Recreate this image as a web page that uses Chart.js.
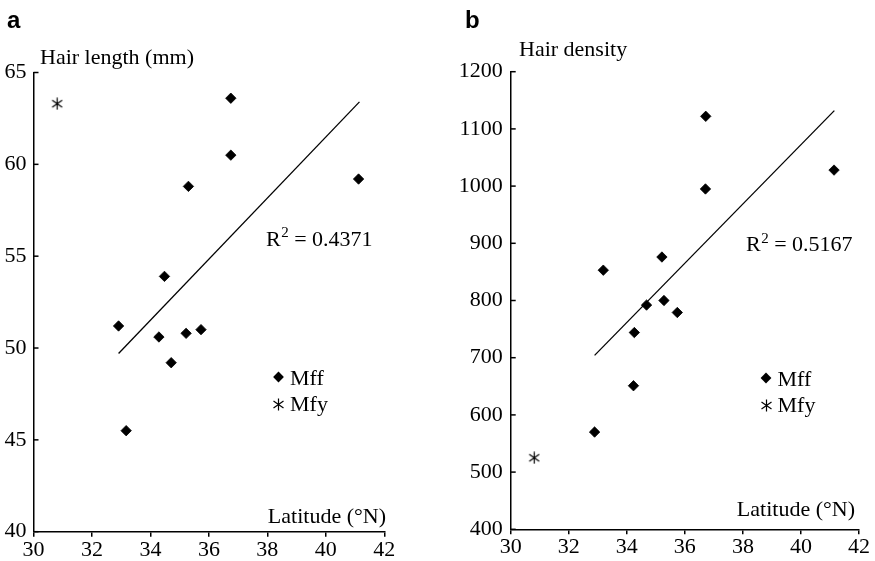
<!DOCTYPE html>
<html><head><meta charset="utf-8">
<script src="https://cdn.jsdelivr.net/npm/chart.js@4.4.1/dist/chart.umd.min.js"></script>
<style>
html,body{margin:0;padding:0;background:#fff;width:875px;height:561px;overflow:hidden;}
canvas{position:absolute;top:0;}
</style></head><body>
<canvas id="ca" width="440" height="561" style="left:0px"></canvas>
<canvas id="cb" width="435" height="561" style="left:440px"></canvas>
<script>
// ---------- data ----------
const latTicks = [30, 32, 34, 36, 38, 40, 42];
const lengthTicks = [40, 45, 50, 55, 60, 65];
const densityTicks = [400, 500, 600, 700, 800, 900, 1000, 1100, 1200];

// Panel a: hair length (mm)
const mffLatA = [36.75, 36.75, 35.30, 41.12, 34.48, 32.91, 34.29, 35.22, 35.73, 34.71, 33.17];
const mffLength = [63.6, 60.5, 58.8, 59.2, 53.9, 51.2, 50.6, 50.8, 51.0, 49.2, 45.5];
const mfyLatA = [30.81];
const mfyLength = [63.3];
const trendLatA = [32.91, 41.15];
const trendLength = [49.7, 63.4];
const r2A = "0.4371";

// Panel b: hair density
const mffLatB = [36.72, 36.71, 41.14, 35.21, 33.19, 34.68, 35.28, 35.74, 34.26, 34.23, 32.89];
const mffDensity = [1122, 995, 1028, 876, 853, 792, 800, 779, 744, 651, 570];
const mfyLatB = [30.81];
const mfyDensity = [525];
const trendLatB = [32.89, 41.15];
const trendDensity = [704, 1132];
const r2B = "0.5167";

const seriesNames = ["Mff", "Mfy"];

// ---------- helpers ----------
const SERIF = '"Liberation Serif", "Times New Roman", serif';
const SANS = '"Liberation Sans", Arial, sans-serif';

function makeAsterisk() {
  const c = document.createElement('canvas');
  c.width = 13; c.height = 13;
  const g = c.getContext('2d');
  g.strokeStyle = '#000'; g.lineWidth = 1.2;
  g.beginPath();
  g.moveTo(6.5, 0.5); g.lineTo(6.5, 12.5);
  g.moveTo(1.5, 3); g.lineTo(11.5, 10);
  g.moveTo(1.5, 10); g.lineTo(11.5, 3);
  g.stroke();
  return c;
}
const asterisk = makeAsterisk();

function pts(xs, ys) { return xs.map((x, i) => ({x: x, y: ys[i]})); }

function drawDiamond(ctx, x, y, r) {
  ctx.beginPath();
  ctx.moveTo(x, y - r); ctx.lineTo(x + r, y); ctx.lineTo(x, y + r); ctx.lineTo(x - r, y);
  ctx.closePath(); ctx.fill();
}

const decoPlugin = {
  id: 'deco',
  afterDraw(chart, args, o) {
    const ctx = chart.ctx;
    const ys = chart.scales.y, ca = chart.chartArea;
    ctx.save();
    // inward y ticks
    ctx.strokeStyle = '#000'; ctx.lineWidth = 1.5;
    ys.ticks.forEach(t => {
      const py = ys.getPixelForValue(t.value);
      ctx.beginPath(); ctx.moveTo(ca.left, py); ctx.lineTo(ca.left + 5, py); ctx.stroke();
    });
    ctx.fillStyle = '#000';
    ctx.textBaseline = 'alphabetic';
    // panel letter
    ctx.font = 'bold 24px ' + SANS; ctx.textAlign = 'left';
    ctx.fillText(o.letter, o.letterPos[0], o.letterPos[1]);
    // axis titles
    ctx.font = '22px ' + SERIF;
    ctx.fillText(o.yTitle, o.yTitlePos[0], o.yTitlePos[1]);
    ctx.textAlign = 'right';
    ctx.fillText(o.xTitle, o.xTitlePos[0], o.xTitlePos[1]);
    // R^2
    ctx.textAlign = 'left';
    let x = o.r2Pos[0], y = o.r2Pos[1];
    ctx.fillText('R', x, y); x += ctx.measureText('R').width + 0.5;
    ctx.font = '15px ' + SERIF;
    ctx.fillText('2', x, y - 8.5); x += ctx.measureText('2').width;
    ctx.font = '22px ' + SERIF;
    ctx.fillText(' = ' + o.r2, x, y);
    // legend
    const lx = o.legendPos[0], ly = o.legendPos[1];
    drawDiamond(ctx, lx, ly, 5.4);
    ctx.fillText(seriesNames[0], lx + 11.5, ly + 7.5);
    ctx.drawImage(asterisk, Math.round(lx - 6.5), Math.round(ly + 27 - 6.5), 13, 13);
    ctx.fillText(seriesNames[1], lx + 11.5, ly + 34);
    ctx.restore();
  }
};

function makeChart(id, cfg) {
  return new Chart(document.getElementById(id), {
    type: 'scatter',
    data: {
      datasets: [
        { label: seriesNames[0], data: pts(cfg.mffX, cfg.mffY), pointStyle: 'rectRot',
          pointRadius: 5.2, backgroundColor: '#000', borderColor: '#000', borderWidth: 0.8 },
        { label: seriesNames[1], data: pts(cfg.mfyX, cfg.mfyY), pointStyle: asterisk,
          pointRadius: 6, backgroundColor: '#000', borderColor: '#000' },
        { label: 'trend', data: pts(cfg.trX, cfg.trY), showLine: true, pointRadius: 0,
          borderColor: '#000', borderWidth: 1.3, fill: false }
      ]
    },
    options: {
      responsive: false, animation: false, events: [],
      layout: { padding: cfg.padding },
      plugins: { legend: { display: false }, tooltip: { enabled: false }, deco: cfg.deco },
      scales: {
        x: {
          type: 'linear', min: latTicks[0], max: latTicks[latTicks.length - 1],
          afterBuildTicks: s => { s.ticks = latTicks.map(v => ({value: v})); },
          afterFit: s => { s.height = cfg.xHeight; },
          grid: { display: true, drawOnChartArea: false, drawTicks: true, tickLength: 5,
                  color: '#000', lineWidth: 1.5 },
          border: { display: true, color: '#000', width: 1.5 },
          ticks: { color: '#000', font: { family: SERIF, size: 22 }, padding: 0, maxRotation: 0,
                   callback: v => String(v) }
        },
        y: {
          type: 'linear', min: cfg.yTicks[0], max: cfg.yTicks[cfg.yTicks.length - 1],
          afterBuildTicks: s => { s.ticks = cfg.yTicks.map(v => ({value: v})); },
          afterFit: s => { s.width = cfg.yWidth; },
          grid: { display: false, drawTicks: false },
          border: { display: true, color: '#000', width: 1.5 },
          ticks: { color: '#000', font: { family: SERIF, size: 22 }, padding: cfg.yPad,
                   callback: v => String(v) }
        }
      }
    },
    plugins: [decoPlugin]
  });
}

makeChart('ca', {
  mffX: mffLatA, mffY: mffLength, mfyX: mfyLatA, mfyY: mfyLength, trX: trendLatA, trY: trendLength,
  yTicks: lengthTicks,
  padding: { left: 0, top: 72.5, right: 55.7, bottom: 0 },
  xHeight: 29.3, yWidth: 33.5, yPad: 7,
  deco: { letter: 'a', letterPos: [7, 28], yTitle: 'Hair length (mm)', yTitlePos: [40, 64],
          xTitle: 'Latitude (°N)', xTitlePos: [386, 522.5], r2: r2A, r2Pos: [266, 245.5],
          legendPos: [278.5, 377] }
});

makeChart('cb', {
  mffX: mffLatB, mffY: mffDensity, mfyX: mfyLatB, mfyY: mfyDensity, trX: trendLatB, trY: trendDensity,
  yTicks: densityTicks,
  padding: { left: 0, top: 71.7, right: 16, bottom: 0 },
  xHeight: 31.7, yWidth: 70.7, yPad: 8,
  deco: { letter: 'b', letterPos: [25, 27.5], yTitle: 'Hair density', yTitlePos: [79, 56],
          xTitle: 'Latitude (°N)', xTitlePos: [415, 516], r2: r2B, r2Pos: [306, 251],
          legendPos: [326, 378] }
});
</script>
</body></html>
